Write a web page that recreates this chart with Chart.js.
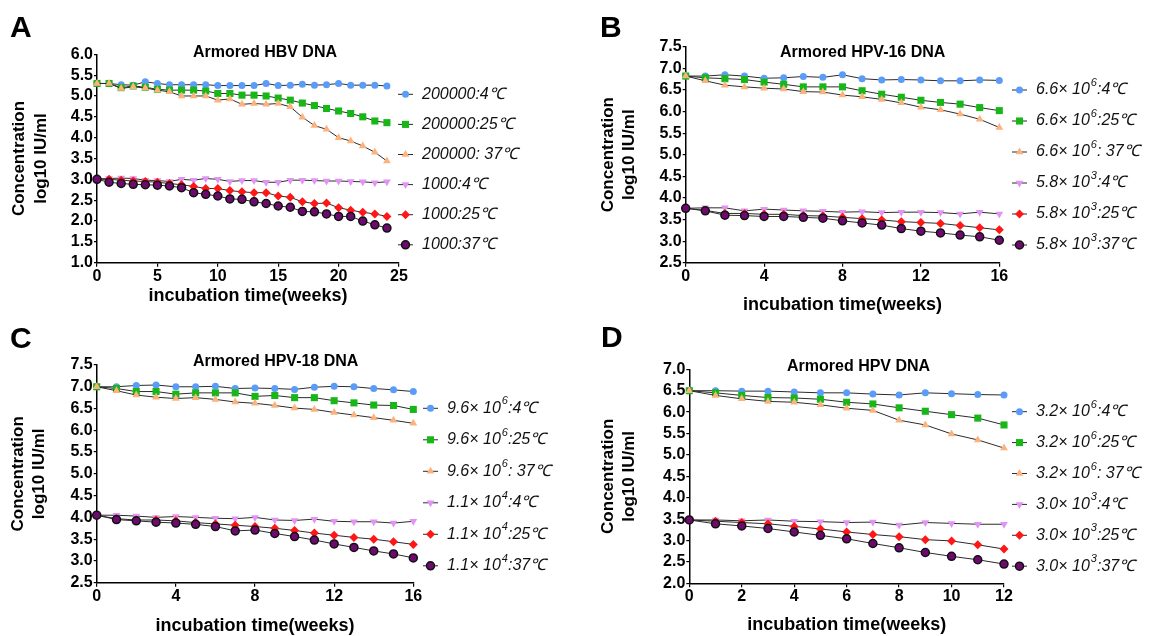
<!DOCTYPE html>
<html>
<head>
<meta charset="utf-8">
<title>Armored DNA stability</title>
<script src="https://cdn.jsdelivr.net/npm/chart.js@4.4.1/dist/chart.umd.min.js"></script>
<style>
  html, body { margin: 0; padding: 0; background: #fff; }
  #wrap { position: relative; width: 1149px; height: 636px; overflow: hidden; }
  #wrap canvas { position: absolute; left: 0; top: 0; }
</style>
</head>
<body>
<div id="wrap">
  <canvas id="panelA" width="1149" height="636"></canvas>
  <canvas id="panelB" width="1149" height="636"></canvas>
  <canvas id="panelC" width="1149" height="636"></canvas>
  <canvas id="panelD" width="1149" height="636"></canvas>
</div>
<script>
// ---- data ----
// A: Armored HBV DNA (weeks 0-24)
const weeksA = [0, 1, 2, 3, 4, 5, 6, 7, 8, 9, 10, 11, 12, 13, 14, 15, 16, 17, 18, 19, 20, 21, 22, 23, 24];
const hbvHigh4 = [5.30, 5.30, 5.27, 5.26, 5.34, 5.30, 5.27, 5.27, 5.27, 5.27, 5.25, 5.25, 5.25, 5.25, 5.30, 5.25, 5.26, 5.28, 5.26, 5.27, 5.30, 5.26, 5.26, 5.26, 5.24];
const hbvHigh25 = [5.30, 5.30, 5.20, 5.24, 5.21, 5.16, 5.14, 5.14, 5.14, 5.12, 5.06, 5.06, 5.02, 5.02, 5.00, 4.95, 4.90, 4.83, 4.77, 4.70, 4.64, 4.58, 4.50, 4.40, 4.36];
const hbvHigh37 = [5.30, 5.30, 5.18, 5.22, 5.19, 5.14, 5.10, 5.00, 5.00, 5.00, 4.90, 4.93, 4.80, 4.82, 4.80, 4.82, 4.74, 4.49, 4.29, 4.20, 4.00, 3.92, 3.80, 3.65, 3.44];
const hbvLow4 = [3.01, 3.02, 3.03, 3.02, 2.98, 2.97, 2.95, 3.00, 2.98, 3.02, 3.00, 2.95, 2.97, 2.97, 2.93, 2.93, 2.98, 2.98, 2.97, 2.96, 2.96, 2.95, 2.94, 2.92, 2.94];
const hbvLow25 = [3.00, 3.00, 2.98, 2.96, 2.95, 2.93, 2.90, 2.87, 2.83, 2.78, 2.78, 2.73, 2.70, 2.68, 2.68, 2.60, 2.57, 2.46, 2.42, 2.43, 2.32, 2.26, 2.21, 2.17, 2.11];
const hbvLow37 = [3.00, 2.93, 2.90, 2.88, 2.87, 2.86, 2.84, 2.80, 2.68, 2.64, 2.60, 2.53, 2.52, 2.46, 2.42, 2.36, 2.33, 2.23, 2.22, 2.17, 2.11, 2.11, 2.00, 1.91, 1.83];

// B: Armored HPV-16 DNA (weeks 0-16)
const weeksB = [0, 1, 2, 3, 4, 5, 6, 7, 8, 9, 10, 11, 12, 13, 14, 15, 16];
const hpv16High4 = [6.82, 6.82, 6.85, 6.82, 6.77, 6.78, 6.81, 6.79, 6.85, 6.76, 6.73, 6.74, 6.73, 6.71, 6.71, 6.73, 6.72];
const hpv16High25 = [6.82, 6.78, 6.76, 6.74, 6.68, 6.63, 6.57, 6.57, 6.57, 6.48, 6.40, 6.33, 6.26, 6.21, 6.17, 6.09, 6.02];
const hpv16High37 = [6.82, 6.71, 6.61, 6.57, 6.54, 6.52, 6.46, 6.45, 6.38, 6.34, 6.28, 6.20, 6.10, 6.04, 5.94, 5.82, 5.63];
const hpv16Low4 = [3.76, 3.77, 3.77, 3.70, 3.74, 3.72, 3.70, 3.69, 3.67, 3.68, 3.66, 3.67, 3.67, 3.66, 3.63, 3.67, 3.63];
const hpv16Low25 = [3.76, 3.71, 3.64, 3.64, 3.62, 3.62, 3.59, 3.58, 3.55, 3.52, 3.49, 3.45, 3.43, 3.41, 3.36, 3.31, 3.26];
const hpv16Low37 = [3.76, 3.70, 3.60, 3.59, 3.57, 3.57, 3.55, 3.53, 3.47, 3.42, 3.37, 3.29, 3.23, 3.19, 3.14, 3.10, 3.02];

// C: Armored HPV-18 DNA (weeks 0-16)
const weeksC = [0, 1, 2, 3, 4, 5, 6, 7, 8, 9, 10, 11, 12, 13, 14, 15, 16];
const hpv18High4 = [7.00, 7.00, 7.03, 7.04, 7.00, 7.00, 7.01, 6.96, 6.97, 6.96, 6.94, 6.99, 7.01, 7.00, 6.96, 6.93, 6.89];
const hpv18High25 = [7.00, 6.96, 6.89, 6.89, 6.83, 6.86, 6.86, 6.86, 6.78, 6.80, 6.75, 6.75, 6.68, 6.63, 6.58, 6.57, 6.48];
const hpv18High37 = [7.00, 6.91, 6.81, 6.76, 6.73, 6.75, 6.71, 6.65, 6.62, 6.57, 6.51, 6.48, 6.41, 6.35, 6.29, 6.23, 6.16];
const hpv18Low4 = [4.05, 4.05, 4.03, 4.00, 4.02, 4.00, 3.98, 3.97, 4.00, 3.94, 3.93, 3.96, 3.91, 3.90, 3.90, 3.87, 3.91];
const hpv18Low25 = [4.05, 3.97, 3.94, 3.94, 3.92, 3.88, 3.85, 3.82, 3.79, 3.75, 3.70, 3.64, 3.59, 3.54, 3.50, 3.44, 3.38];
const hpv18Low37 = [4.05, 3.95, 3.92, 3.89, 3.87, 3.84, 3.79, 3.69, 3.71, 3.63, 3.56, 3.48, 3.39, 3.31, 3.23, 3.16, 3.07];

// D: Armored HPV DNA (weeks 0-12)
const weeksD = [0, 1, 2, 3, 4, 5, 6, 7, 8, 9, 10, 11, 12];
const hpvHigh4 = [6.50, 6.50, 6.49, 6.49, 6.47, 6.45, 6.45, 6.42, 6.40, 6.45, 6.43, 6.41, 6.40];
const hpvHigh25 = [6.50, 6.45, 6.39, 6.34, 6.33, 6.30, 6.23, 6.19, 6.10, 6.02, 5.94, 5.86, 5.70];
const hpvHigh37 = [6.50, 6.39, 6.31, 6.25, 6.23, 6.17, 6.09, 6.04, 5.81, 5.70, 5.49, 5.35, 5.16];
const hpvLow4 = [3.48, 3.48, 3.46, 3.48, 3.45, 3.44, 3.42, 3.43, 3.36, 3.42, 3.40, 3.38, 3.38];
const hpvLow25 = [3.48, 3.45, 3.42, 3.39, 3.33, 3.27, 3.20, 3.14, 3.09, 3.02, 2.99, 2.90, 2.80];
const hpvLow37 = [3.48, 3.39, 3.34, 3.28, 3.20, 3.12, 3.04, 2.93, 2.83, 2.72, 2.63, 2.55, 2.45];

// tick values
const xTicksA = [0, 5, 10, 15, 20, 25];
const xTicksB = [0, 4, 8, 12, 16];
const xTicksC = [0, 4, 8, 12, 16];
const xTicksD = [0, 2, 4, 6, 8, 10, 12];
const yTicksA = [1.0, 1.5, 2.0, 2.5, 3.0, 3.5, 4.0, 4.5, 5.0, 5.5, 6.0];
const yTicksB = [2.5, 3.0, 3.5, 4.0, 4.5, 5.0, 5.5, 6.0, 6.5, 7.0, 7.5];
const yTicksC = [2.5, 3.0, 3.5, 4.0, 4.5, 5.0, 5.5, 6.0, 6.5, 7.0, 7.5];
const yTicksD = [2.0, 2.5, 3.0, 3.5, 4.0, 4.5, 5.0, 5.5, 6.0, 6.5, 7.0];

// legend labels: [text, superscript, rest]
const legendA = [['200000:4℃'], ['200000:25℃'], ['200000: 37℃'], ['1000:4℃'], ['1000:25℃'], ['1000:37℃']];
const legendB = [['6.6× 10', '6', ':4℃'], ['6.6× 10', '6', ':25℃'], ['6.6× 10', '6', ': 37℃'],
                 ['5.8× 10', '3', ':4℃'], ['5.8× 10', '3', ':25℃'], ['5.8× 10', '3', ':37℃']];
const legendC = [['9.6× 10', '6', ':4℃'], ['9.6× 10', '6', ':25℃'], ['9.6× 10', '6', ': 37℃'],
                 ['1.1× 10', '4', ':4℃'], ['1.1× 10', '4', ':25℃'], ['1.1× 10', '4', ':37℃']];
const legendD = [['3.2× 10', '6', ':4℃'], ['3.2× 10', '6', ':25℃'], ['3.2× 10', '6', ': 37℃'],
                 ['3.0× 10', '3', ':4℃'], ['3.0× 10', '3', ':25℃'], ['3.0× 10', '3', ':37℃']];

// ---- styles ----
const FONT = '"Liberation Sans", Arial, Helvetica, sans-serif';
const Y_AXIS_W = 97;
const X_AXIS_H = 60;

const seriesStyle = [
    { pointStyle: 'circle', rotation: 0, radius: 3.5, fill: '#5a9cf8', border: '#5a9cf8', bw: 0 },
    { pointStyle: 'rect', rotation: 0, radius: 5, fill: '#17b717', border: '#17b717', bw: 0 },
    { pointStyle: 'triangle', rotation: 0, radius: 4.5, fill: '#fbb27c', border: '#fbb27c', bw: 0 },
    { pointStyle: 'triangle', rotation: 180, radius: 4.5, fill: '#e294f5', border: '#e294f5', bw: 0 },
    { pointStyle: 'rectRot', rotation: 0, radius: 4.5, fill: '#ff1616', border: '#ff1616', bw: 0 },
    { pointStyle: 'circle', rotation: 0, radius: 4, fill: '#6e0a6e', border: '#111111', bw: 1.5 }
];

Chart.defaults.font.family = FONT;
Chart.defaults.color = '#000';

// Legend at the right side, panel letter and panel title
const sideLegend = {
    id: 'sideLegend',
    afterDraw(chart, args, opts) {
        const ctx = chart.ctx;
        ctx.save();

        // panel letter
        ctx.fillStyle = '#000';
        ctx.textAlign = 'left';
        ctx.textBaseline = 'alphabetic';
        ctx.font = 'bold 30px ' + FONT;
        ctx.fillText(opts.letter, opts.letterX, opts.letterY);

        // title
        ctx.font = 'bold 16px ' + FONT;
        ctx.textBaseline = 'middle';
        ctx.fillText(opts.title, opts.titleX, opts.titleY);

        chart.data.datasets.forEach((ds, i) => {
            const x = opts.x0;
            const y = opts.y0 + i * opts.dy;
            ctx.strokeStyle = '#2b2b2b';
            ctx.lineWidth = 1;
            ctx.beginPath();
            ctx.moveTo(x, y);
            ctx.lineTo(x + 15, y);
            ctx.stroke();

            ctx.fillStyle = ds.pointBackgroundColor;
            ctx.strokeStyle = ds.pointBorderColor;
            ctx.lineWidth = ds.pointBorderWidth;
            Chart.helpers.drawPoint(ctx, {
                pointStyle: ds.pointStyle,
                rotation: ds.pointRotation,
                radius: ds.pointRadius,
                borderWidth: ds.pointBorderWidth
            }, x + 7.5, y);

            const parts = opts.labels[i];
            let tx = x + 24;
            ctx.fillStyle = '#111';
            ctx.textBaseline = 'middle';
            ctx.font = 'italic 16px ' + FONT;
            ctx.fillText(parts[0], tx, y);
            tx += ctx.measureText(parts[0]).width;
            if (parts.length > 1) {
                ctx.font = 'italic 11px ' + FONT;
                ctx.fillText(parts[1], tx + 1, y - 7);
                tx += ctx.measureText(parts[1]).width + 1;
                ctx.font = 'italic 16px ' + FONT;
                ctx.fillText(parts[2], tx, y);
            }
        });
        ctx.restore();
    }
};

function buildPanel(id, p) {
    const datasets = p.series.map((vals, i) => {
        const st = seriesStyle[i];
        return {
            label: p.legend[i].join(''),
            data: vals.map((v, k) => ({ x: p.weeks[k], y: v })),
            order: -i, // later series drawn on top
            borderColor: '#2b2b2b',
            borderWidth: 1,
            tension: 0,
            fill: false,
            clip: false,
            pointStyle: st.pointStyle,
            pointRotation: st.rotation,
            pointRadius: st.radius,
            pointBackgroundColor: st.fill,
            pointBorderColor: st.border,
            pointBorderWidth: st.bw
        };
    });

    new Chart(document.getElementById(id), {
        type: 'line',
        data: { datasets },
        options: {
            responsive: false,
            animation: false,
            devicePixelRatio: 1,
            events: [],
            layout: {
                padding: {
                    left: p.area.left - Y_AXIS_W,
                    top: p.area.top,
                    right: 1149 - p.area.right,
                    bottom: 636 - p.area.bottom - X_AXIS_H
                }
            },
            plugins: {
                legend: { display: false },
                tooltip: { enabled: false },
                sideLegend: p.side
            },
            scales: {
                x: {
                    type: 'linear',
                    min: p.xTicks[0],
                    max: p.xTicks[p.xTicks.length - 1],
                    afterBuildTicks: s => { s.ticks = p.xTicks.map(v => ({ value: v })); },
                    afterFit: s => { s.height = X_AXIS_H; },
                    ticks: { font: { size: 16, weight: 'bold' }, color: '#000', padding: 0, maxRotation: 0, autoSkip: false },
                    grid: { drawOnChartArea: false, color: '#000', tickLength: 4, lineWidth: 1.2 },
                    border: { color: '#000', width: 1.5 },
                    title: {
                        display: true,
                        text: 'incubation time(weeks)',
                        color: '#000',
                        font: { size: 18, weight: 'bold', lineHeight: 1.2 },
                        padding: { top: 0, bottom: X_AXIS_H - p.xTitleGap - 10.8 }
                    }
                },
                y: {
                    type: 'linear',
                    min: p.yTicks[0],
                    max: p.yTicks[p.yTicks.length - 1],
                    afterBuildTicks: s => { s.ticks = p.yTicks.map(v => ({ value: v })); },
                    afterFit: s => { s.width = Y_AXIS_W; },
                    ticks: { font: { size: 16, weight: 'bold' }, color: '#000', padding: 1, autoSkip: false, callback: v => v.toFixed(1) },
                    grid: { drawOnChartArea: false, color: '#000', tickLength: 3, lineWidth: 1.2 },
                    border: { color: '#000', width: 1.5 },
                    title: {
                        display: true,
                        text: ['Concentration', 'log10 IU/ml'],
                        color: '#000',
                        font: { size: 17, weight: 'bold', lineHeight: 1.25 },
                        padding: { top: p.yTitlePad, bottom: 0 }
                    }
                }
            }
        },
        plugins: [sideLegend]
    });
}

buildPanel('panelA', {
    weeks: weeksA,
    series: [hbvHigh4, hbvHigh25, hbvHigh37, hbvLow4, hbvLow25, hbvLow37],
    legend: legendA,
    xTicks: xTicksA, yTicks: yTicksA,
    area: { left: 97, right: 399, top: 54.3, bottom: 262.7 },
    xTitleGap: 33, yTitlePad: 9,
    side: { labels: legendA, x0: 398, y0: 94.3, dy: 30.1, letter: 'A', letterX: 10, letterY: 37,
            title: 'Armored HBV DNA', titleX: 193, titleY: 52.5 }
});

buildPanel('panelB', {
    weeks: weeksB,
    series: [hpv16High4, hpv16High25, hpv16High37, hpv16Low4, hpv16Low25, hpv16Low37],
    legend: legendB,
    xTicks: xTicksB, yTicks: yTicksB,
    area: { left: 685.7, right: 999.3, top: 46.7, bottom: 262.7 },
    xTitleGap: 42, yTitlePad: 9,
    side: { labels: legendB, x0: 1012, y0: 90, dy: 31, letter: 'B', letterX: 600, letterY: 37,
            title: 'Armored HPV-16 DNA', titleX: 780, titleY: 52.5 }
});

buildPanel('panelC', {
    weeks: weeksC,
    series: [hpv18High4, hpv18High25, hpv18High37, hpv18Low4, hpv18Low25, hpv18Low37],
    legend: legendC,
    xTicks: xTicksC, yTicks: yTicksC,
    area: { left: 96.7, right: 413.3, top: 365, bottom: 582.7 },
    xTitleGap: 43, yTitlePad: 8,
    side: { labels: legendC, x0: 423, y0: 408.3, dy: 31.5, letter: 'C', letterX: 10, letterY: 348,
            title: 'Armored HPV-18 DNA', titleX: 193, titleY: 362 }
});

buildPanel('panelD', {
    weeks: weeksD,
    series: [hpvHigh4, hpvHigh25, hpvHigh37, hpvLow4, hpvLow25, hpvLow37],
    legend: legendD,
    xTicks: xTicksD, yTicks: yTicksD,
    area: { left: 689.3, right: 1004, top: 369.3, bottom: 583.3 },
    xTitleGap: 42, yTitlePad: 5,
    side: { labels: legendD, x0: 1012, y0: 411.7, dy: 30.9, letter: 'D', letterX: 601, letterY: 347,
            title: 'Armored HPV DNA', titleX: 787, titleY: 367 }
});
</script>
</body>
</html>
